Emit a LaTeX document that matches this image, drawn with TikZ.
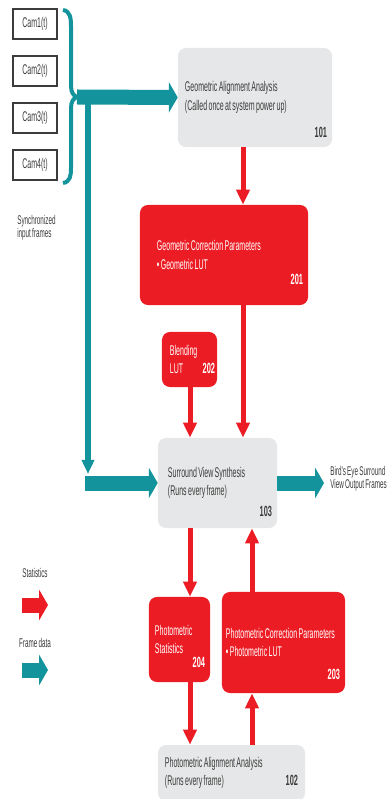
\documentclass[tikz,border=0pt]{standalone}
\usepackage{fontspec}
\setmainfont{Liberation Sans}[FakeStretch=0.5, WordSpace=0.7]
\usetikzlibrary{arrows.meta}

\definecolor{tiRed}{HTML}{EC1C24}
\definecolor{tiTeal}{HTML}{13939B}
\definecolor{tiGray}{HTML}{E6E7E8}
\definecolor{tiText}{HTML}{3C3C3C}

\hyphenpenalty=10000
\newcommand{\numfont}{\fontsize{10.5}{12}\selectfont\bfseries}

\tikzset{
    gbox/.style={fill=tiGray, rounded corners=0.2cm, text=tiText, align=flush left, inner ysep=0pt},
    rbox/.style={fill=tiRed, rounded corners=0.2cm, text=white, align=flush left, inner ysep=0pt},
    cambox/.style={draw=tiText, line width=0.8pt, minimum width=1.1cm, minimum height=0.75cm, text=tiText},
    num/.style={font=\numfont, inner sep=0pt},
    note/.style={font=\fontsize{9}{9.5}\selectfont, text=tiText, align=left, inner sep=0pt},
    statarrow/.style={draw=tiRed, line width=0.125cm, -{Triangle[width=0.325cm,length=0.375cm]}},
    bigarrow/.style={line width=0.375cm, -{Triangle[width=0.75cm,length=0.22cm]}},
    frameline/.style={draw=tiTeal, line width=0.13cm, -{Triangle[width=0.3cm,length=0.35cm]}}
}

\begin{document}
\begin{tikzpicture}[x=0.025cm, y=-0.025cm, font=\fontsize{10}{13}\selectfont]
\path[use as bounding box] (0,0) rectangle (392,799);
\clip (0,0) rectangle (392,799);

% Cameras
\node[cambox] (Cam1) at (35,24) {Cam1(t)};
\node[cambox] (Cam2) at (35,71) {Cam2(t)};
\node[cambox] (Cam3) at (35,118) {Cam3(t)};
\node[cambox] (Cam4) at (35,165) {Cam4(t)};
\node[note, anchor=north west] (Sync) at (17,215) {Synchronized\\input frames};

% Blocks
\node[gbox, minimum width=3.85cm, minimum height=2.475cm, inner xsep=0.175cm, text width=3.5cm] (AA101) at (255,97.5)
    {Geometric Alignment Analysis\\(Called once at system power up)};
\node[rbox, minimum width=4.2cm, minimum height=2.5cm, inner xsep=0.425cm, text width=3.35cm] (GC201) at (224,255)
    {Geometric Correction Parameters\\\textbullet\ Geometric LUT};
\node[rbox, minimum width=1.375cm, minimum height=1.375cm, inner xsep=0.2cm, text width=0.975cm] (BL202) at (189.5,359.5)
    {Blending\\LUT\hfill{\numfont 202}\hspace*{-0.15cm}};
\node[gbox, minimum width=2.975cm, minimum height=2.25cm, inner xsep=0.25cm, text width=2.475cm] (SV103) at (217.5,483)
    {Surround View Synthesis\\(Runs every frame)};
\node[rbox, minimum width=1.525cm, minimum height=2.125cm, inner xsep=0.15cm, text width=1.225cm] (PS204) at (179.5,639.5)
    {Photometric\\Statistics};
\node[rbox, minimum width=3.075cm, minimum height=2.525cm, inner xsep=0.1cm, text width=2.875cm] (PC203) at (283.5,642.5)
    {Photometric Correction Parameters\\\textbullet\ Photometric LUT};
\node[gbox, minimum width=3.675cm, minimum height=1.4cm, inner xsep=0.175cm, text width=3.325cm] (PA102) at (231.5,773)
    {Photometric Alignment Analysis\\(Runs every frame)\hfill{\numfont 102}};

% Block numbers
\node[num, text=tiText, anchor=south east] (N101) at ([xshift=-0.125cm, yshift=0.225cm]AA101.south east) {101};
\node[num, text=white, anchor=south east] (N201) at ([xshift=-0.125cm, yshift=0.5cm]GC201.south east) {201};
\node[num, text=tiText, anchor=south east] (N103) at ([xshift=-0.125cm, yshift=0.29cm]SV103.south east) {103};
\node[num, text=white, anchor=south east] (N204) at ([xshift=-0.125cm, yshift=0.36cm]PS204.south east) {204};
\node[num, text=white, anchor=south east] (N203) at ([xshift=-0.125cm, yshift=0.34cm]PC203.south east) {203};

% Frame data path
\coordinate (bt) at (77,97);
\coordinate (split) at (88,97);
\coordinate (drop) at (88,474);
\coordinate (turn) at (85,483);
\coordinate (outp) at (324,483);
\draw[tiTeal, line width=0.1cm] (63,10) .. controls (70,11) and (71,18) .. (71,26) -- (71,86)
    .. controls (71,93) and (74,96) .. (bt) .. controls (74,98) and (71,101) .. (71,108) -- (71,168)
    .. controls (71,176) and (70,182) .. (63,183);
\draw[bigarrow, tiTeal] (bt) -- (AA101.west);
\draw[frameline] (split) -- (drop);
\draw[bigarrow, tiTeal] (turn) -- (SV103.west);
\draw[bigarrow, tiTeal] (SV103.east) -- (outp);
\node[note, anchor=west] (Out) at (330,479) {Bird's Eye Surround\\View Output Frames};

% Statistics path
\coordinate (colA) at (243,0);
\coordinate (colB) at (190,0);
\coordinate (colC) at (252,0);
\draw[statarrow] (AA101.south -| colA) -- (GC201.north -| colA);
\draw[statarrow] (GC201.south -| colA) -- (SV103.north -| colA);
\draw[statarrow] (BL202.south -| colB) -- (SV103.north -| colB);
\draw[statarrow] (SV103.south -| colB) -- (PS204.north -| colB);
\draw[statarrow] (PS204.south -| colB) -- (PA102.north -| colB);
\draw[statarrow] (PA102.north -| colC) -- (PC203.south -| colC);
\draw[statarrow] (PC203.north -| colC) -- (SV103.south -| colC);

% Legend
\node[note] (LStat) at (35,573) {Statistics};
\coordinate (ls1) at (22,605);
\coordinate (ls2) at (48,605);
\draw[bigarrow, tiRed] (ls1) -- (ls2);
\node[note] (LFrame) at (35,643) {Frame data};
\coordinate (lf1) at (22,670);
\coordinate (lf2) at (48,670);
\draw[bigarrow, tiTeal] (lf1) -- (lf2);
\end{tikzpicture}
\end{document}
